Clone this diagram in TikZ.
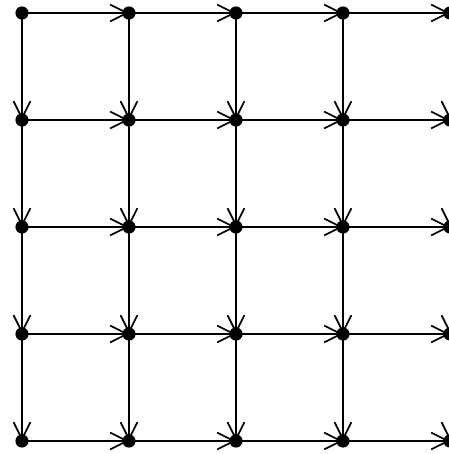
\documentclass[tikz,border=0pt]{standalone}
\usepackage{tikz}
\usetikzlibrary{arrows.meta}

\begin{document}
\begin{tikzpicture}[>={Straight Barb[length=9pt,width=9pt]}, line width=0.9pt]
  \tikzset{dot/.style={circle, fill=black, inner sep=0pt, minimum size=7pt}}
  \useasboundingbox (-0.411,-0.243) rectangle (7.981,8.243);
  \clip (-0.411,-0.243) rectangle (7.981,8.243);
  \foreach \i in {0,...,4}
    \foreach \j in {0,...,4}
      \node[dot] (n-\i-\j) at (2*\i,2*\j) {};
  \foreach \i in {0,...,4}
    \foreach \j in {0,...,4} {
      \pgfmathtruncatemacro\nxt{\i+1}
      \pgfmathtruncatemacro\dwn{\j-1}
      \ifnum\i<4 \draw[->] (n-\i-\j.center) -- (n-\nxt-\j.center); \fi
      \ifnum\j>0 \draw[->] (n-\i-\j.center) -- (n-\i-\dwn.center); \fi
    }
\end{tikzpicture}
\end{document}
